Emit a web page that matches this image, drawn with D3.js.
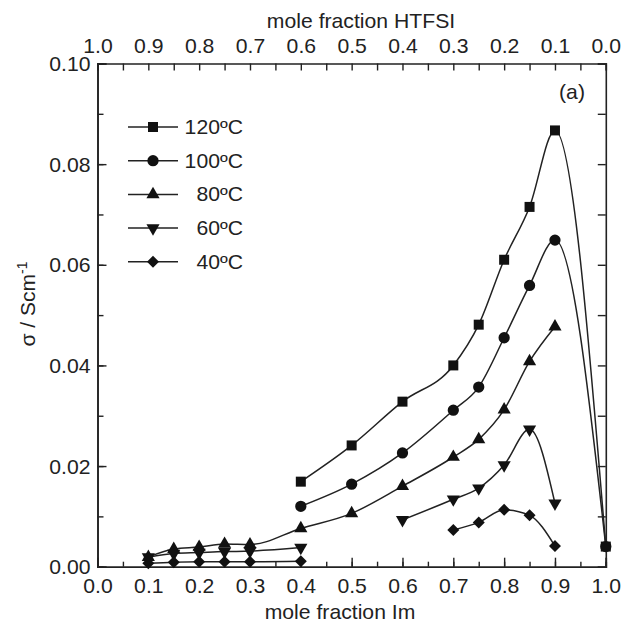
<!DOCTYPE html>
<html>
<head>
<meta charset="utf-8">
<script src="https://cdn.jsdelivr.net/npm/d3@7"></script>
<style>
  html, body { margin: 0; padding: 0; background: #fff; }
  svg text { font-family: "Liberation Sans", Arial, Helvetica, sans-serif; fill: #222; }
</style>
</head>
<body>
<svg id="chart" width="621" height="625"></svg>
<script>
// ---------------- data ----------------
const moleFractionIm = [0.1, 0.15, 0.2, 0.25, 0.3, 0.4, 0.5, 0.6, 0.7, 0.75, 0.8, 0.85, 0.9, 1.0];
const sigma120 = [null, null, null, null, null, 0.0169, 0.0241, 0.0328, 0.0400, 0.0481, 0.0610, 0.0715, 0.0867, 0.0040];
const sigma100 = [null, null, null, null, null, 0.0120, 0.0164, 0.0226, 0.0311, 0.0357, 0.0455, 0.0559, 0.0649, 0.0040];
const sigma80  = [0.0019, 0.0035, 0.0039, 0.0045, 0.0044, 0.0076, 0.0106, 0.0160, 0.0218, 0.0253, 0.0312, 0.0408, 0.0477, null];
const sigma60  = [0.0019, 0.0026, 0.0028, 0.0030, 0.0031, 0.0038, null, 0.0093, 0.0134, 0.0156, 0.0202, 0.0273, 0.0126, null];
const sigma40  = [0.0007, 0.0009, 0.0010, 0.0010, 0.0010, 0.0011, null, null, 0.0073, 0.0088, 0.0113, 0.0102, 0.0041, null];
const seriesNames = ["120ºC", "100ºC", "80ºC", "60ºC", "40ºC"];
const seriesValues = [sigma120, sigma100, sigma80, sigma60, sigma40];
const markerTypes = ["square", "circle", "triangle", "triangleDown", "diamond"];
const xTickLabels = [0.0, 0.1, 0.2, 0.3, 0.4, 0.5, 0.6, 0.7, 0.8, 0.9, 1.0];
const yTickLabels = [0.00, 0.02, 0.04, 0.06, 0.08, 0.10];

// ---------------- layout ----------------
const svg = d3.select("#chart");
const X0 = 97.5, X1 = 605.8, Y0 = 63.5, Y1 = 566.7;
const FS = 20, SX = 1.06;
const ink = "#222";

const x = d3.scaleLinear().domain([0, 1]).range([X0, X1]);
const xTop = d3.scaleLinear().domain([1, 0]).range([X0, X1]);
const y = d3.scaleLinear().domain([0, 0.1]).range([Y1, Y0]);

function styleAxis(g) {
  g.select(".domain").attr("stroke", ink).attr("stroke-width", 1.6);
  g.selectAll(".tick line").attr("stroke", ink).attr("stroke-width", 1.4);
  g.selectAll("text").attr("font-size", FS).attr("fill", ink).attr("font-family", null);
}

const minorX = d3.range(0, 1.0001, 0.05).map(v => +v.toFixed(2));
const minorY = d3.range(0, 0.10001, 0.01).map(v => +v.toFixed(2));

// bottom axis: minor ticks
svg.append("g").attr("transform", `translate(0,${Y1})`)
  .call(d3.axisBottom(x).tickValues(minorX).tickSize(-5).tickFormat(""))
  .call(styleAxis);
// bottom axis: major ticks with labels
const gb = svg.append("g").attr("transform", `translate(0,${Y1})`)
  .call(d3.axisBottom(x).tickValues(xTickLabels).tickSize(-9).tickPadding(0).tickFormat(d3.format(".1f")))
  .call(styleAxis);
gb.selectAll("text").attr("y", 26).attr("dy", 0).attr("transform", `scale(${SX},1)`);

// top axis
const gt = svg.append("g").attr("transform", `translate(0,${Y0})`)
  .call(d3.axisTop(xTop).tickValues(minorX).tickSize(-7).tickPadding(0)
    .tickFormat(d => (Math.round(d * 100) % 10 === 0) ? d3.format(".1f")(d) : ""))
  .call(styleAxis);
gt.selectAll("text").attr("y", -11).attr("dy", 0).attr("transform", `scale(${SX},1)`);

// left axis: minor
svg.append("g").attr("transform", `translate(${X0},0)`)
  .call(d3.axisLeft(y).tickValues(minorY).tickSize(-6).tickFormat(""))
  .call(styleAxis);
const gl = svg.append("g").attr("transform", `translate(${X0},0)`)
  .call(d3.axisLeft(y).tickValues(yTickLabels).tickSize(-9).tickPadding(0).tickFormat(d3.format(".2f")))
  .call(styleAxis);
gl.selectAll("text").attr("x", -7 / SX).attr("dy", "0.35em").attr("transform", `scale(${SX},1)`);

// right axis
svg.append("g").attr("transform", `translate(${X1},0)`)
  .call(d3.axisRight(y).tickValues(minorY).tickSize(-8).tickFormat(""))
  .call(styleAxis);

// axis titles
svg.append("text").attr("transform", `translate(361,28) scale(${SX},1)`)
  .attr("text-anchor", "middle").attr("font-size", FS).text("mole fraction HTFSI");
svg.append("text").attr("transform", `translate(340,619) scale(${SX},1)`)
  .attr("text-anchor", "middle").attr("font-size", FS).text("mole fraction Im");
const yl = svg.append("text").attr("transform", "translate(35,304) rotate(-90)")
  .attr("text-anchor", "middle").attr("font-size", 21);
yl.append("tspan").text("σ / Scm");
yl.append("tspan").attr("font-size", 14).attr("dy", -8).text("-1");

// panel label
svg.append("text").attr("transform", `translate(572,99) scale(${SX},1)`)
  .attr("text-anchor", "middle").attr("font-size", FS).text("(a)");

// ---------------- series ----------------
function symbolPath(type, cx, cy) {
  const sym = {
    square: d3.symbol(d3.symbolSquare, 100),
    circle: d3.symbol(d3.symbolCircle, 100),
    triangle: d3.symbol(d3.symbolTriangle, 75),
    triangleDown: d3.symbol(d3.symbolTriangle, 75),
    diamond: d3.symbol(d3.symbolSquare, 72)
  }[type];
  let rot = 0;
  if (type === "triangleDown") rot = 180;
  if (type === "diamond") rot = 45;
  return { d: sym(), transform: `translate(${cx},${cy}) rotate(${rot})` };
}

const line = d3.line()
  .defined(d => d[1] !== null)
  .x(d => x(d[0]))
  .y(d => y(d[1]))
  .curve(d3.curveMonotoneX);

seriesValues.forEach((vals, i) => {
  const pts = moleFractionIm.map((xv, j) => [xv, vals[j]]);
  svg.append("path").attr("d", line(pts))
    .attr("fill", "none").attr("stroke", ink).attr("stroke-width", 1.5);
  svg.append("g").selectAll("path")
    .data(pts.filter(p => p[1] !== null))
    .join("path")
    .each(function (p) {
      const s = symbolPath(markerTypes[i], x(p[0]), y(p[1]));
      d3.select(this).attr("d", s.d).attr("transform", s.transform).attr("fill", "#111");
    });
});

// ---------------- legend ----------------
const legX0 = 128, legX1 = 178, legY0 = 127, legDY = 33.7;
seriesNames.forEach((name, i) => {
  const ly = legY0 + i * legDY;
  svg.append("line").attr("x1", legX0).attr("x2", legX1).attr("y1", ly).attr("y2", ly)
    .attr("stroke", ink).attr("stroke-width", 1.5);
  const s = symbolPath(markerTypes[i], (legX0 + legX1) / 2, ly);
  svg.append("path").attr("d", s.d).attr("transform", s.transform).attr("fill", "#111");
  svg.append("text").attr("transform", `translate(243,${ly + 7}) scale(${SX},1)`)
    .attr("text-anchor", "end").attr("font-size", FS).text(name);
});
</script>
</body>
</html>
